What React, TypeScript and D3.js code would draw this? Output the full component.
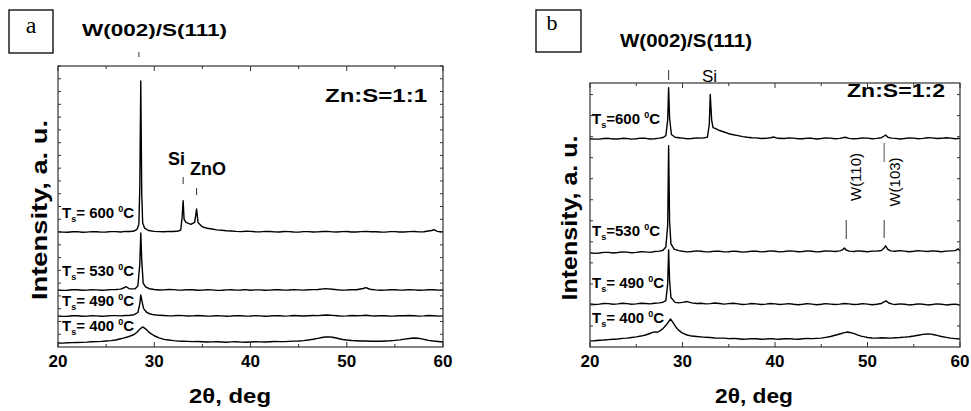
import React from "react";
import * as d3 from "d3";

// XRD scans (2θ in degrees, intensity in stacked arbitrary units)
const angleDomain: [number, number] = [20, 60];
const majorTicks = [20, 30, 40, 50, 60];

// Panel a: Zn:S = 1:1
const a600: [number, number][] = [
  [20, 9.02], [20.5, 8.99], [21, 8.98], [21.5, 9.02], [22, 9.03], [22.5, 8.98], [23, 8.99], [23.5, 9.03], [24, 9.02], [24.5, 8.99],
  [25, 9.0], [25.5, 9.03], [26, 9.03], [26.5, 9.0], [27, 9.05], [27.5, 9.04], [27.9, 9.08], [28.2, 9.2], [28.4, 9.6], [28.5, 12.5],
  [28.6, 20.83], [28.7, 12.0], [28.8, 9.7], [29.0, 9.3], [29.4, 9.12], [30, 9.05], [30.5, 9.03], [31, 9.02], [31.5, 9.05], [32, 9.04],
  [32.5, 9.08], [32.75, 9.15], [32.9, 10.2], [33.0, 11.46], [33.1, 10.0], [33.3, 9.75], [33.8, 9.6], [34.2, 9.75], [34.4, 10.8], [34.55, 9.75],
  [35, 9.4], [35.5, 9.3], [36, 9.24], [36.5, 9.17], [37, 9.14], [37.5, 9.1], [38, 9.08], [38.5, 9.05], [39, 9.03], [39.5, 9.06],
  [40, 9.05], [40.5, 9.02], [41, 9.01], [41.5, 9.05], [42, 9.04], [42.5, 9.01], [43, 9.0], [43.5, 9.04], [44, 9.03], [44.5, 9.0],
  [45, 8.99], [45.5, 9.03], [46, 9.03], [46.5, 9.0], [47, 9.01], [47.5, 9.04], [48, 9.05], [48.5, 9.01], [49, 9.0], [49.5, 9.03],
  [50, 9.04], [50.5, 9.0], [51, 9.0], [51.5, 9.03], [52, 9.05], [52.5, 9.02], [53, 9.02], [53.5, 9.0], [54, 8.99], [54.5, 9.03],
  [55, 9.03], [55.5, 9.0], [56, 9.0], [56.5, 9.03], [57, 9.04], [57.5, 9.01], [58, 9.02], [58.8, 9.12], [59.1, 9.18], [59.4, 9.05],
  [59.7, 9.02], [60, 9.03],
];
const a530: [number, number][] = [
  [20, 4.46], [20.5, 4.43], [21, 4.44], [21.5, 4.48], [22, 4.48], [22.5, 4.44], [23, 4.45], [23.5, 4.48], [24, 4.47], [24.5, 4.44],
  [25, 4.46], [25.5, 4.49], [26, 4.5], [26.5, 4.53], [26.8, 4.62], [27.1, 4.72], [27.4, 4.56], [28, 4.55], [28.3, 4.8], [28.5, 6.5],
  [28.6, 8.93], [28.7, 6.8], [28.85, 5.0], [29.1, 4.7], [29.5, 4.56], [30, 4.5], [30.5, 4.46], [31, 4.47], [31.5, 4.5], [32, 4.49],
  [32.5, 4.45], [33, 4.46], [33.5, 4.49], [34, 4.48], [34.5, 4.44], [35, 4.45], [35.5, 4.48], [36, 4.47], [36.5, 4.43], [37, 4.44],
  [37.5, 4.47], [38, 4.48], [38.5, 4.45], [39, 4.46], [39.5, 4.49], [40, 4.44], [40.5, 4.47], [41, 4.47], [41.5, 4.44], [42, 4.45],
  [42.5, 4.48], [43, 4.48], [43.5, 4.45], [44, 4.46], [44.5, 4.49], [45, 4.47], [45.5, 4.45], [46, 4.48], [46.5, 4.49], [47, 4.5],
  [47.8, 4.57], [48.5, 4.52], [49, 4.48], [49.5, 4.45], [50, 4.46], [50.5, 4.49], [51, 4.48], [51.7, 4.58], [52, 4.65], [52.4, 4.52],
  [53, 4.47], [53.5, 4.44], [54, 4.45], [54.5, 4.48], [55, 4.48], [55.5, 4.45], [56, 4.46], [56.5, 4.49], [57, 4.47], [57.5, 4.44],
  [58, 4.45], [58.5, 4.48], [59, 4.48], [59.5, 4.45], [60, 4.46],
];
const a490: [number, number][] = [
  [20, 2.43], [20.5, 2.4], [21, 2.41], [21.5, 2.45], [22, 2.45], [22.5, 2.41], [23, 2.42], [23.5, 2.45], [24, 2.44], [24.5, 2.41],
  [25, 2.43], [25.5, 2.46], [26, 2.46], [26.5, 2.44], [27, 2.47], [27.5, 2.49], [27.9, 2.53], [28.3, 2.7], [28.5, 3.4], [28.6, 4.07],
  [28.75, 3.5], [28.9, 3.0], [29.2, 2.72], [29.6, 2.58], [30, 2.52], [30.5, 2.48], [31, 2.47], [31.5, 2.44], [32, 2.45], [32.5, 2.48],
  [33, 2.46], [33.5, 2.43], [34, 2.44], [34.5, 2.47], [35, 2.45], [35.5, 2.42], [36, 2.43], [36.5, 2.46], [37, 2.44], [37.5, 2.41],
  [38, 2.43], [38.5, 2.46], [39, 2.45], [39.5, 2.42], [40, 2.43], [40.5, 2.46], [41, 2.44], [41.5, 2.41], [42, 2.43], [42.5, 2.46],
  [43, 2.45], [43.5, 2.42], [44, 2.44], [44.5, 2.47], [45, 2.45], [45.5, 2.43], [46, 2.45], [46.5, 2.47], [47, 2.46], [47.5, 2.49],
  [48, 2.51], [48.5, 2.48], [49, 2.45], [49.5, 2.42], [50, 2.44], [50.5, 2.47], [51, 2.45], [51.5, 2.46], [52, 2.49], [52.5, 2.45],
  [53, 2.43], [53.5, 2.46], [54, 2.45], [54.5, 2.42], [55, 2.43], [55.5, 2.46], [56, 2.45], [56.5, 2.47], [57, 2.45], [57.5, 2.42],
  [58, 2.44], [58.5, 2.47], [59, 2.45], [59.5, 2.42], [60, 2.44],
];
const a400: [number, number][] = [
  [20, 0.31], [20.5, 0.3], [21, 0.33], [21.5, 0.34], [22, 0.35], [22.5, 0.36], [23, 0.38], [23.5, 0.41], [24, 0.42], [24.5, 0.44],
  [25, 0.47], [25.5, 0.5], [26, 0.55], [26.4, 0.63], [26.8, 0.7], [27.2, 0.78], [27.5, 0.86], [27.9, 0.98], [28.2, 1.15], [28.5, 1.4],
  [28.8, 1.57], [29.1, 1.42], [29.5, 1.12], [30, 0.88], [30.5, 0.72], [31, 0.6], [31.5, 0.55], [32, 0.5], [32.5, 0.46], [33, 0.45],
  [33.5, 0.44], [34, 0.42], [34.5, 0.43], [35, 0.41], [35.5, 0.39], [36, 0.4], [36.5, 0.41], [37, 0.39], [37.5, 0.37], [38, 0.4],
  [38.5, 0.41], [39, 0.38], [39.5, 0.37], [40, 0.39], [40.5, 0.41], [41, 0.4], [41.5, 0.39], [42, 0.41], [42.5, 0.43], [43, 0.42],
  [43.5, 0.42], [44, 0.44], [44.5, 0.46], [45, 0.47], [45.5, 0.5], [46, 0.55], [46.5, 0.61], [47, 0.68], [47.4, 0.74], [47.8, 0.78],
  [48.2, 0.79], [48.5, 0.76], [48.9, 0.7], [49.2, 0.65], [49.6, 0.59], [50, 0.55], [50.5, 0.51], [51, 0.49], [51.5, 0.47], [52, 0.47],
  [52.5, 0.45], [53, 0.46], [53.5, 0.45], [54, 0.47], [54.5, 0.49], [55, 0.52], [55.5, 0.56], [56, 0.62], [56.5, 0.67], [57, 0.7],
  [57.4, 0.69], [57.8, 0.64], [58.2, 0.57], [58.5, 0.52], [59, 0.47], [59.5, 0.43], [60, 0.39],
];

// Panel b: Zn:S = 1:2
const b600: [number, number][] = [
  [20, 9.9], [20.5, 9.88], [21, 9.88], [21.5, 9.91], [22, 9.92], [22.5, 9.89], [23, 9.89], [23.5, 9.92], [24, 9.91], [24.5, 9.88],
  [25, 9.9], [25.5, 9.93], [26, 9.92], [26.5, 9.89], [27, 9.9], [27.5, 9.93], [27.9, 9.96], [28.2, 10.05], [28.4, 10.8], [28.5, 12.33],
  [28.6, 10.9], [28.8, 10.1], [29.2, 9.97], [29.6, 9.95], [30, 9.93], [30.5, 9.9], [31, 9.91], [31.5, 9.94], [32, 9.93], [32.4, 9.95],
  [32.7, 9.98], [32.9, 10.6], [33.0, 12.0], [33.15, 10.8], [33.3, 10.43], [33.6, 10.38], [34, 10.29], [34.5, 10.22], [35, 10.14], [35.5, 10.09],
  [36, 10.05], [36.5, 10.0], [37, 9.97], [37.5, 9.95], [38, 9.94], [38.5, 9.91], [39, 9.92], [39.5, 9.95], [39.9, 9.98], [40.3, 9.92],
  [41, 9.91], [41.5, 9.94], [42, 9.93], [42.5, 9.9], [43, 9.9], [43.5, 9.93], [44, 9.92], [44.5, 9.89], [45, 9.91], [45.5, 9.94],
  [46, 9.93], [46.5, 9.9], [47, 9.92], [47.6, 9.97], [48, 9.92], [48.5, 9.9], [49, 9.91], [49.5, 9.94], [50, 9.93], [50.5, 9.9],
  [51, 9.92], [51.5, 9.95], [51.8, 10.03], [51.95, 10.08], [52.2, 9.97], [52.6, 9.93], [53, 9.92], [53.5, 9.89], [54, 9.91], [54.5, 9.94],
  [55, 9.93], [55.5, 9.9], [56, 9.92], [56.5, 9.95], [57, 9.94], [57.5, 9.91], [58, 9.92], [58.5, 9.95], [59, 9.93], [59.5, 9.9],
  [60, 9.92],
];
const b530: [number, number][] = [
  [20, 4.48], [20.5, 4.45], [21, 4.47], [21.5, 4.5], [22, 4.5], [22.5, 4.47], [23, 4.49], [23.5, 4.52], [24, 4.51], [24.5, 4.48],
  [25, 4.5], [25.5, 4.53], [26, 4.52], [26.5, 4.5], [27, 4.54], [27.5, 4.56], [27.9, 4.6], [28.2, 4.75], [28.4, 5.8], [28.5, 9.57],
  [28.6, 6.0], [28.75, 4.9], [29.1, 4.65], [29.6, 4.58], [30, 4.55], [30.5, 4.52], [31, 4.54], [31.5, 4.57], [32, 4.55], [32.5, 4.52],
  [33, 4.53], [33.5, 4.56], [34, 4.55], [34.5, 4.52], [35, 4.53], [35.5, 4.56], [36, 4.54], [36.5, 4.51], [37, 4.53], [37.5, 4.56],
  [38, 4.55], [38.5, 4.52], [39, 4.54], [39.5, 4.57], [40, 4.55], [40.5, 4.52], [41, 4.54], [41.5, 4.57], [42, 4.56], [42.5, 4.53],
  [43, 4.54], [43.5, 4.57], [44, 4.55], [44.5, 4.52], [45, 4.54], [45.5, 4.57], [46, 4.56], [46.5, 4.54], [47, 4.57], [47.3, 4.62],
  [47.5, 4.71], [47.7, 4.61], [48, 4.56], [48.5, 4.54], [49, 4.57], [49.5, 4.55], [50, 4.53], [50.5, 4.56], [51, 4.56], [51.5, 4.59],
  [51.75, 4.68], [51.95, 4.81], [52.2, 4.64], [52.5, 4.57], [53, 4.55], [53.5, 4.58], [54, 4.56], [54.5, 4.53], [55, 4.55], [55.5, 4.58],
  [56, 4.56], [56.5, 4.54], [57, 4.57], [57.5, 4.55], [58, 4.53], [58.5, 4.56], [59, 4.57], [59.5, 4.58], [59.8, 4.66], [60, 4.57],
];
const b490: [number, number][] = [
  [20, 2.05], [20.5, 2.02], [21, 2.04], [21.5, 2.07], [22, 2.06], [22.5, 2.03], [23, 2.05], [23.5, 2.08], [24, 2.06], [24.5, 2.03],
  [25, 2.05], [25.5, 2.08], [26, 2.07], [26.5, 2.05], [27, 2.08], [27.5, 2.1], [27.9, 2.13], [28.2, 2.2], [28.4, 3.0], [28.5, 4.62],
  [28.6, 3.2], [28.75, 2.35], [29.2, 2.12], [29.6, 2.1], [30, 2.12], [30.5, 2.16], [31, 2.1], [31.5, 2.07], [32, 2.08], [32.5, 2.05],
  [33, 2.06], [33.5, 2.09], [34, 2.07], [34.5, 2.04], [35, 2.06], [35.5, 2.08], [36, 2.05], [36.5, 2.02], [37, 2.04], [37.5, 2.07],
  [38, 2.05], [38.5, 2.02], [39, 2.04], [39.5, 2.07], [40, 2.05], [40.5, 2.02], [41, 2.04], [41.5, 2.06], [42, 2.03], [42.5, 2.01],
  [43, 2.03], [43.5, 2.06], [44, 2.04], [44.5, 2.01], [45, 2.03], [45.5, 2.06], [46, 2.04], [46.5, 2.02], [47, 2.04], [47.5, 2.07],
  [48, 2.05], [48.5, 2.02], [49, 2.03], [49.5, 2.06], [50, 2.04], [50.5, 2.01], [51, 2.03], [51.5, 2.07], [51.8, 2.14], [52, 2.19],
  [52.3, 2.09], [52.7, 2.04], [53, 2.02], [53.5, 2.05], [54, 2.03], [54.5, 2.0], [55, 2.02], [55.5, 2.05], [56, 2.03], [56.5, 2.0],
  [57, 2.02], [57.5, 2.05], [58, 2.03], [58.5, 2.0], [59, 2.02], [59.5, 2.04], [60, 2.0],
];
const b400: [number, number][] = [
  [20, 0.29], [20.5, 0.3], [21, 0.32], [21.5, 0.33], [22, 0.35], [22.5, 0.37], [23, 0.38], [23.5, 0.41], [24, 0.42], [24.5, 0.45],
  [25, 0.48], [25.5, 0.52], [26, 0.57], [26.4, 0.63], [26.7, 0.68], [27.0, 0.72], [27.3, 0.7], [27.6, 0.78], [27.9, 0.88], [28.3, 1.08],
  [28.7, 1.33], [29.0, 1.15], [29.3, 0.94], [29.6, 0.79], [30, 0.66], [30.5, 0.57], [31, 0.52], [31.5, 0.5], [32, 0.48], [32.5, 0.46],
  [33, 0.45], [33.5, 0.43], [34, 0.42], [34.5, 0.42], [35, 0.4], [35.5, 0.41], [36, 0.39], [36.5, 0.37], [37, 0.38], [37.5, 0.4],
  [38, 0.39], [38.5, 0.37], [39, 0.38], [39.5, 0.4], [40, 0.38], [40.5, 0.37], [41, 0.39], [41.5, 0.4], [42, 0.38], [42.5, 0.37],
  [43, 0.39], [43.5, 0.41], [44, 0.4], [44.5, 0.41], [45, 0.42], [45.5, 0.46], [46, 0.5], [46.5, 0.56], [47, 0.62], [47.4, 0.67],
  [47.8, 0.71], [48.1, 0.69], [48.5, 0.65], [48.9, 0.58], [49.3, 0.52], [49.7, 0.48], [50, 0.45], [50.5, 0.43], [51, 0.42], [51.5, 0.44],
  [52, 0.43], [52.5, 0.42], [53, 0.44], [53.5, 0.45], [54, 0.47], [54.5, 0.49], [55, 0.52], [55.5, 0.56], [56, 0.6], [56.5, 0.62],
  [56.9, 0.61], [57.2, 0.58], [57.6, 0.54], [58, 0.5], [58.5, 0.46], [59, 0.42], [59.5, 0.4], [60, 0.38],
];

// Substrate temperatures, °C
const tempsA = ["600", "530", "490", "400"];
const tempsB = ["600", "530", "490", "400"];

const BOLD = "'Liberation Sans', Arial, Helvetica, sans-serif";

type Series = [number, number][];

interface PanelProps {
  x0: number;
  x1: number;
  yTop: number;
  yBottom: number;
  yMax: number;
  series: Series[];
}

function Frame({ x0, x1, yTop, yBottom, yMax, series }: PanelProps) {
  const x = d3.scaleLinear().domain(angleDomain).range([x0, x1]);
  const y = d3.scaleLinear().domain([0, yMax]).range([yBottom, yTop]);
  const line = d3
    .line<[number, number]>()
    .x((d) => x(d[0]))
    .y((d) => y(d[1]));
  const xTicks = d3.range(angleDomain[0], angleDomain[1] + 0.01, 5);
  const yTicks = d3.range(1, Math.floor(yMax) + 0.01, 1);
  return (
    <g>
      {series.map((s, i) => (
        <path key={i} d={line(s) ?? ""} fill="none" stroke="#000" strokeWidth={1.4} strokeLinejoin="round" />
      ))}
      <rect x={x0} y={yTop} width={x1 - x0} height={yBottom - yTop} fill="none" stroke="#333" strokeWidth={1.2} />
      {xTicks.map((t) => {
        const len = t % 10 === 0 ? 5 : 3;
        return (
          <g key={t}>
            <line x1={x(t)} x2={x(t)} y1={yBottom} y2={yBottom - len} stroke="#333" strokeWidth={1} />
            <line x1={x(t)} x2={x(t)} y1={yTop} y2={yTop + len} stroke="#333" strokeWidth={1} />
          </g>
        );
      })}
      {yTicks.map((t) => (
        <g key={t}>
          <line x1={x0} x2={x0 + 3} y1={y(t)} y2={y(t)} stroke="#333" strokeWidth={1} />
          <line x1={x1} x2={x1 - 3} y1={y(t)} y2={y(t)} stroke="#333" strokeWidth={1} />
        </g>
      ))}
      {majorTicks.map((t) => (
        <text key={t} x={x(t)} y={367} textAnchor="middle" fontFamily={BOLD} fontWeight="bold" fontSize={17}>
          {t}
        </text>
      ))}
    </g>
  );
}

function TempLabel({ x, y, temp, gap }: { x: number; y: number; temp: string; gap: boolean }) {
  return (
    <text x={x} y={y} fontFamily={BOLD} fontWeight="bold" fontSize={15}>
      T
      <tspan fontSize={9} dy={4}>s</tspan>
      <tspan dy={-4}>{gap ? "= " : "="}{temp} </tspan>
      <tspan fontSize={9} dy={-6}>0</tspan>
      <tspan dy={6}>C</tspan>
    </text>
  );
}

export default function App() {
  const xa = d3.scaleLinear().domain(angleDomain).range([58, 443]);
  const xb = d3.scaleLinear().domain(angleDomain).range([590, 960]);
  const labelYA = [218, 276, 306, 331];
  const labelYB = [124, 236, 288, 323];
  return (
    <svg width={971} height={411} style={{ display: "block", position: "absolute", left: 0, top: 0 }}>
      <rect width={971} height={411} fill="#fff" />

      {/* Panel a */}
      <rect x={9} y={10} width={44} height={43} fill="none" stroke="#000" strokeWidth={1.3} />
      <text x={31} y={33} textAnchor="middle" fontFamily="'Liberation Serif', 'Times New Roman', serif" fontSize={24}>
        a
      </text>
      <Frame x0={58} x1={443} yTop={66} yBottom={347} yMax={22} series={[a600, a530, a490, a400]} />
      <text x={82} y={36} fontFamily={BOLD} fontWeight="bold" fontSize={17} textLength={145} lengthAdjust="spacingAndGlyphs">
        W(002)/S(111)
      </text>
      <line x1={xa(28.4)} x2={xa(28.4)} y1={52} y2={57} stroke="#333" strokeWidth={1} />
      <text x={427} y={102} textAnchor="end" fontFamily={BOLD} fontWeight="bold" fontSize={18} textLength={102} lengthAdjust="spacingAndGlyphs">
        Zn:S=1:1
      </text>
      <text x={168} y={165} fontFamily={BOLD} fontWeight="bold" fontSize={18}>Si</text>
      <line x1={xa(33)} x2={xa(33)} y1={177} y2={184} stroke="#333" strokeWidth={1} />
      <text x={190} y={175} fontFamily={BOLD} fontWeight="bold" fontSize={18}>ZnO</text>
      <line x1={xa(34.4)} x2={xa(34.4)} y1={188} y2={195} stroke="#333" strokeWidth={1} />
      {tempsA.map((t, i) => (
        <TempLabel key={t} x={62} y={labelYA[i]} temp={t} gap={true} />
      ))}
      <text x={230} y={403} textAnchor="middle" fontFamily={BOLD} fontWeight="bold" fontSize={21} textLength={82} lengthAdjust="spacingAndGlyphs">
        2θ, deg
      </text>
      <text
        transform="translate(47,210) rotate(-90)"
        textAnchor="middle"
        fontFamily={BOLD}
        fontWeight="bold"
        fontSize={22}
        textLength={180}
        lengthAdjust="spacingAndGlyphs"
      >
        Intensity, a. u.
      </text>

      {/* Panel b */}
      <rect x={536} y={10} width={45} height={42} fill="none" stroke="#000" strokeWidth={1.3} />
      <text x={552} y={30} textAnchor="middle" fontFamily="'Liberation Serif', 'Times New Roman', serif" fontSize={22}>
        b
      </text>
      <Frame x0={590} x1={960} yTop={83} yBottom={347} yMax={12.55} series={[b600, b530, b490, b400]} />
      <text x={620} y={47} fontFamily={BOLD} fontWeight="bold" fontSize={18} textLength={132} lengthAdjust="spacingAndGlyphs">
        W(002)/S(111)
      </text>
      <line x1={xb(28.5)} x2={xb(28.5)} y1={70} y2={80} stroke="#333" strokeWidth={1} />
      <text x={702} y={82} fontFamily={BOLD} fontSize={17}>Si</text>
      <text x={945} y={97} textAnchor="end" fontFamily={BOLD} fontWeight="bold" fontSize={18} textLength={98} lengthAdjust="spacingAndGlyphs">
        Zn:S=1:2
      </text>
      {tempsB.map((t, i) => (
        <TempLabel key={t} x={592} y={labelYB[i]} temp={t} gap={i >= 2} />
      ))}
      <text transform="translate(861,177) rotate(-90)" textAnchor="middle" fontFamily={BOLD} fontSize={15}>
        W(110)
      </text>
      <text transform="translate(900,182) rotate(-90)" textAnchor="middle" fontFamily={BOLD} fontSize={15}>
        W(103)
      </text>
      <line x1={xb(47.7)} x2={xb(47.7)} y1={220} y2={239} stroke="#333" strokeWidth={1} />
      <line x1={xb(51.8)} x2={xb(51.8)} y1={220} y2={238} stroke="#333" strokeWidth={1} />
      <line x1={xb(51.8)} x2={xb(51.8)} y1={143} y2={162} stroke="#555" strokeWidth={1} />
      <text x={754} y={403} textAnchor="middle" fontFamily={BOLD} fontWeight="bold" fontSize={21} textLength={78} lengthAdjust="spacingAndGlyphs">
        2θ, deg
      </text>
      <text
        transform="translate(577,218) rotate(-90)"
        textAnchor="middle"
        fontFamily={BOLD}
        fontWeight="bold"
        fontSize={22}
        textLength={165}
        lengthAdjust="spacingAndGlyphs"
      >
        Intensity, a. u.
      </text>
    </svg>
  );
}
